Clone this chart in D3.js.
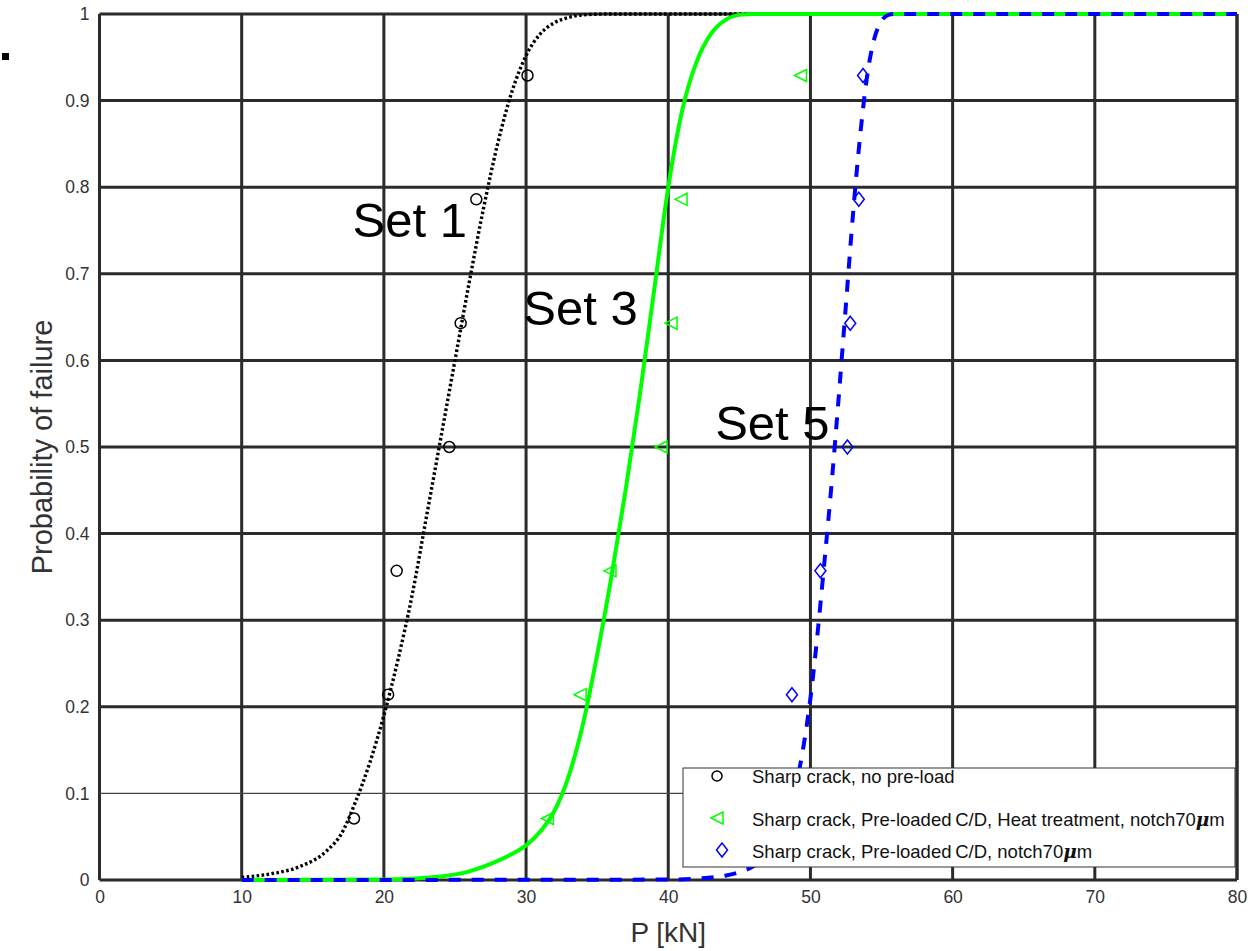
<!DOCTYPE html>
<html>
<head>
<meta charset="utf-8">
<script src="https://cdn.jsdelivr.net/npm/d3@7"></script>
<style>
    body { margin: 0; background: #fff; font-family: "Liberation Sans", Arial, sans-serif; }
    #Chart { display: block; }
</style>
</head>
<body>
<svg id="Chart"></svg>
<script>
// tick values
let xTicks = [0, 10, 20, 30, 40, 50, 60, 70, 80]
let yTicks = [0, 0.1, 0.2, 0.3, 0.4, 0.5, 0.6, 0.7, 0.8, 0.9, 1]

// measured points (load in kN, probability of failure)
let set1Load = [17.9, 20.3, 20.9, 24.6, 25.4, 26.5, 30.1]
let set1Prob = [0.071, 0.214, 0.357, 0.5, 0.643, 0.786, 0.929]
let set3Load = [31.5, 33.8, 35.9, 39.5, 40.2, 40.9, 49.3]
let set3Prob = [0.071, 0.214, 0.357, 0.5, 0.643, 0.786, 0.929]
let set5Load = [48.7, 50.7, 52.6, 52.8, 53.4, 53.7]
let set5Prob = [0.214, 0.357, 0.5, 0.643, 0.786, 0.929]

// fitted curves
let set1CurveLoad = [10, 12, 14, 16, 17, 18, 19, 20, 21, 22, 23, 24, 25, 26, 27, 28, 29, 30, 31, 32, 33, 34, 36, 80]
let set1CurveProb = [0.003, 0.007, 0.015, 0.034, 0.053, 0.09, 0.135, 0.19, 0.255, 0.33, 0.42, 0.51, 0.6, 0.69, 0.775, 0.85, 0.91, 0.952, 0.977, 0.99, 0.996, 0.999, 1, 1]
let set3CurveLoad = [10, 20, 22, 24, 26, 28, 29, 30, 31, 32, 33, 34, 35, 36, 37, 38, 39, 40, 41, 42, 43, 44, 45, 46, 80]
let set3CurveProb = [0, 0.0005, 0.0015, 0.004, 0.01, 0.022, 0.03, 0.04, 0.056, 0.08, 0.12, 0.18, 0.26, 0.35, 0.45, 0.56, 0.68, 0.8, 0.89, 0.945, 0.977, 0.993, 0.999, 1, 1]
let set5CurveLoad = [10, 40, 42, 43, 44, 45, 46, 47, 48, 49, 50, 51, 51.5, 52, 52.5, 53, 53.5, 54, 54.5, 55, 55.5, 56, 80]
let set5CurveProb = [0, 0.0005, 0.0015, 0.003, 0.005, 0.009, 0.016, 0.03, 0.058, 0.11, 0.21, 0.37, 0.46, 0.56, 0.665, 0.77, 0.86, 0.93, 0.972, 0.992, 0.999, 1, 1]

let setNames = ["Set 1", "Set 3", "Set 5"]
let setNameLoad = [17.8, 29.8, 43.3]
let setNameProb = [0.742, 0.641, 0.508]

let legendLabels = [
    "Sharp crack, no pre-load",
    "Sharp crack, Pre-loaded\u2009C/D, Heat treatment, notch70",
    "Sharp crack, Pre-loaded\u2009C/D, notch70"
]

function zip(a, b) { return a.map((v, i) => [v, b[i]]) }

function getConfig() {
    let width = 1260
    let height = 951
    let margin = { top: 14, bottom: 71, left: 99.5, right: 23 }
    let bodyWidth = width - margin.left - margin.right
    let bodyHeight = height - margin.top - margin.bottom
    let container = d3.select("#Chart").attr("width", width).attr("height", height)
    return { width, height, margin, bodyWidth, bodyHeight, container }
}

function getScales(config) {
    let xScale = d3.scaleLinear().domain([0, 80]).range([0, config.bodyWidth])
    let yScale = d3.scaleLinear().domain([0, 1]).range([config.bodyHeight, 0])
    return { xScale, yScale }
}

function drawGrid(body, scales, config) {
    let { xScale, yScale } = scales
    let gridColor = "#2b2b2b"
    body.selectAll(".vgrid").data(xTicks).enter().append("line")
        .attr("x1", d => xScale(d)).attr("x2", d => xScale(d))
        .attr("y1", 0).attr("y2", config.bodyHeight)
        .attr("stroke", gridColor).attr("stroke-width", 3)
    body.selectAll(".hgrid").data(yTicks).enter().append("line")
        .attr("x1", 0).attr("x2", config.bodyWidth)
        .attr("y1", d => yScale(d)).attr("y2", d => yScale(d))
        .attr("stroke", d => d === 0.1 ? "#444" : gridColor)
        .attr("stroke-width", d => d === 0.1 ? 1.3 : 3)
}

function drawAxes(body, scales, config) {
    let { xScale, yScale } = scales
    let axisX = d3.axisBottom(xScale).tickValues(xTicks).tickSize(0).tickPadding(11)
    let gx = body.append("g").attr("transform", `translate(0,${config.bodyHeight})`).call(axisX)
    let axisY = d3.axisLeft(yScale).tickValues(yTicks).tickSize(0).tickPadding(10).tickFormat(d => d)
    let gy = body.append("g").call(axisY)
    for (let g of [gx, gy]) {
        g.select(".domain").remove()
        g.selectAll("text").attr("font-size", 17.5).attr("fill", "#333")
            .attr("font-family", "Liberation Sans, Arial, sans-serif")
    }
    body.append("text")
        .attr("x", config.bodyWidth / 2).attr("y", config.bodyHeight + 62)
        .attr("text-anchor", "middle").attr("font-size", 28).attr("fill", "#333")
        .text("P [kN]")
    body.append("text")
        .attr("transform", `translate(-48,${config.bodyHeight / 2}) rotate(-90)`)
        .attr("text-anchor", "middle").attr("font-size", 29).attr("fill", "#333")
        .text("Probability of failure")
}

function drawCurves(body, scales) {
    let { xScale, yScale } = scales
    let line = d3.line().x(d => xScale(d[0])).y(d => yScale(d[1])).curve(d3.curveMonotoneX)
    body.append("path").attr("d", line(zip(set1CurveLoad, set1CurveProb)))
        .attr("fill", "none").attr("stroke", "#000").attr("stroke-width", 3.4)
        .attr("stroke-dasharray", "2.6,2.4")
    body.append("path").attr("d", line(zip(set3CurveLoad, set3CurveProb)))
        .attr("fill", "none").attr("stroke", "#00ff00").attr("stroke-width", 4)
    body.append("path").attr("d", line(zip(set5CurveLoad, set5CurveProb)))
        .attr("fill", "none").attr("stroke", "#0000ff").attr("stroke-width", 4)
        .attr("stroke-dasharray", "12,11")
}

function markerPath(kind) {
    if (kind === "tri") return "M-6,0L6,-6L6,6Z"
    if (kind === "dia") return "M0,-7L5.5,0L0,7L-5.5,0Z"
    return null
}

function drawMarkers(body, scales) {
    let { xScale, yScale } = scales
    body.selectAll(".c1").data(zip(set1Load, set1Prob)).enter().append("circle")
        .attr("cx", d => xScale(d[0])).attr("cy", d => yScale(d[1])).attr("r", 5.5)
        .attr("fill", "none").attr("stroke", "#000").attr("stroke-width", 1.5)
    body.selectAll(".c3").data(zip(set3Load, set3Prob)).enter().append("path")
        .attr("transform", d => `translate(${xScale(d[0])},${yScale(d[1])})`)
        .attr("d", markerPath("tri"))
        .attr("fill", "none").attr("stroke", "#00ff00").attr("stroke-width", 1.5)
    body.selectAll(".c5").data(zip(set5Load, set5Prob)).enter().append("path")
        .attr("transform", d => `translate(${xScale(d[0])},${yScale(d[1])})`)
        .attr("d", markerPath("dia"))
        .attr("fill", "none").attr("stroke", "#0000ff").attr("stroke-width", 1.5)

    body.selectAll(".setName").data(setNames).enter().append("text")
        .attr("x", (d, i) => xScale(setNameLoad[i])).attr("y", (d, i) => yScale(setNameProb[i]))
        .attr("font-size", 49).attr("fill", "#000")
        .text(d => d)
}

function drawLegend(body, config) {
    let lx = 583.5, ly = 754, lw = 552, lh = 99
    let g = body.append("g").attr("transform", `translate(${lx},${ly})`)
    g.append("rect").attr("width", lw).attr("height", lh)
        .attr("fill", "#fff").attr("stroke", "#333").attr("stroke-width", 1)
    let rowY = [8, 50, 82]
    let symX = [34, 34, 39]
    let colors = ["#000", "#00ff00", "#0000ff"]
    g.append("circle").attr("cx", symX[0]).attr("cy", rowY[0]).attr("r", 5)
        .attr("fill", "none").attr("stroke", colors[0]).attr("stroke-width", 1.5)
    g.append("path").attr("transform", `translate(${symX[1]},${rowY[1]})`).attr("d", markerPath("tri"))
        .attr("fill", "none").attr("stroke", colors[1]).attr("stroke-width", 1.5)
    g.append("path").attr("transform", `translate(${symX[2]},${rowY[2]})`).attr("d", markerPath("dia"))
        .attr("fill", "none").attr("stroke", colors[2]).attr("stroke-width", 1.5)
    legendLabels.forEach((t, i) => {
        let txt = g.append("text").attr("x", 69).attr("y", rowY[i] + (i === 0 ? 7 : 8))
            .attr("font-size", 18.5).attr("fill", "#111").text(t)
        if (i > 0) txt.append("tspan").attr("font-family", "DejaVu Serif, serif")
            .attr("font-style", "italic").attr("font-weight", "bold").text("\u03bc")
        if (i > 0) txt.append("tspan").text("m")
    })
    // right frame line drawn on top of the legend
    body.append("line").attr("x1", config.bodyWidth).attr("x2", config.bodyWidth)
        .attr("y1", 0).attr("y2", config.bodyHeight)
        .attr("stroke", "#2b2b2b").attr("stroke-width", 3)
}

function showChart() {
    let config = getConfig()
    let scales = getScales(config)
    let { margin, container } = config
    container.append("rect").attr("x", 2).attr("y", 53).attr("width", 7).attr("height", 7).attr("fill", "#000")
    let body = container.append("g").attr("transform", `translate(${margin.left},${margin.top})`)
    drawGrid(body, scales, config)
    drawAxes(body, scales, config)
    drawCurves(body, scales)
    drawMarkers(body, scales)
    drawLegend(body, config)
}

showChart()
</script>
</body>
</html>
